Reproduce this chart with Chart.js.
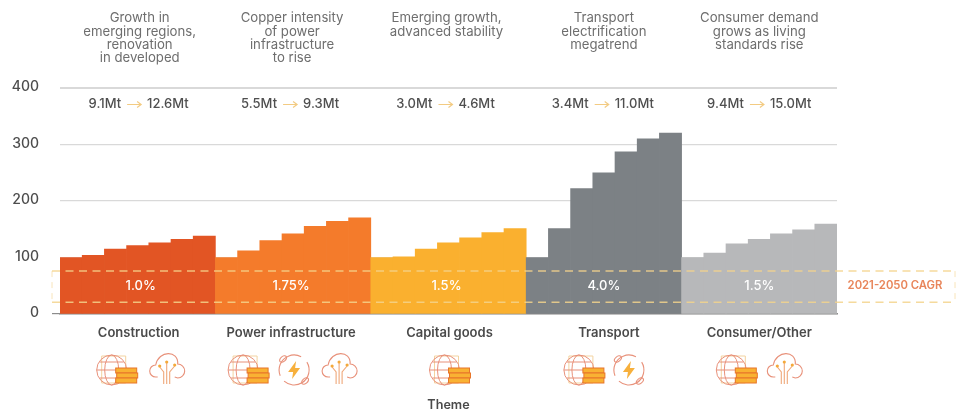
<!DOCTYPE html>
<html><head><meta charset="utf-8">
<style>html,body{margin:0;padding:0;background:#fff}#w{position:relative;width:957px;height:411px}</style>
<script src="https://cdn.jsdelivr.net/npm/chart.js@4"></script></head>
<body><div id="w"><canvas id="c" width="957" height="411"></canvas></div>
<script>
const constructionValues=[100,104,115,121,126,132,138];
const powerValues=[100,112,130,142,155,164,170];
const capitalValues=[100,101,115,126,135,144,151];
const transportValues=[100,151,222,250,287,310,320];
const consumerValues=[100,108,124,132,142,149,159];
const groupNames=['Construction','Power infrastructure','Capital goods','Transport','Consumer/Other'];
const groupColors=['#e25524','#f47b2b','#fab02f','#7c8185','#b7b8ba'];
const groupNotes=[['Growth in','emerging regions,','renovation','in developed'],['Copper intensity','of power','infrastructure','to rise'],['Emerging growth,','advanced stability'],['Transport','electrification','megatrend'],['Consumer demand','grows as living','standards rise']];
const fromTonnes=['9.1Mt','5.5Mt','3.0Mt','3.4Mt','9.4Mt'];
const toTonnes=['12.6Mt','9.3Mt','4.6Mt','11.0Mt','15.0Mt'];
const cagrLabels=['1.0%','1.75%','1.5%','4.0%','1.5%'];
const groupIcons=[['globe','cloud'],['globe','bolt','cloud'],['globe'],['globe','bolt'],['globe','cloud']];
const yTicks=[0,100,200,300,400];
const axisTitle='Theme';
const cagrTitle='2021-2050 CAGR';

const seriesByGroup=[constructionValues,powerValues,capitalValues,transportValues,consumerValues];
const values=seriesByGroup.flat();
const categories=seriesByGroup.flatMap((s,g)=>s.map((_,i)=>groupNames[g]+' '+(i+1)));
const barColors=seriesByGroup.flatMap((s,g)=>s.map(()=>groupColors[g]));

const FONT='Inter, "Open Sans", sans-serif';
// small layout nudges, px from the centre of each group
const noteShift=[2,-1,-2,0,0], rateShift=[1,-3,-3,-1,0], nameShift=[1,-2,1,5,0], cagrShift=[3,-2,-2,0,0];
const iconShift=[[-26,29],[-50,1,46],[-4],[-25,25],[-28,25]];

function globe(c,x,y){
  c.save();c.lineWidth=1;
  c.strokeStyle='#f3d3a0';
  c.beginPath();c.rect(x-10,y-14,24,27);c.stroke();
  c.strokeStyle='#e8917a';
  c.beginPath();c.arc(x,y,15,0,7);c.stroke();
  c.beginPath();c.ellipse(x,y,7,15,0,0,7);c.stroke();
  c.beginPath();c.moveTo(x-15,y);c.lineTo(x+15,y);c.moveTo(x-12,y-8);c.lineTo(x+12,y-8);c.moveTo(x-12,y+8);c.lineTo(x+12,y+8);c.stroke();
  c.fillStyle='#f9b233';c.strokeStyle='#e8752a';
  [[-2,4],[3,5],[8,4]].forEach(r=>{c.fillRect(x+r[1],y+r[0],21,5);c.strokeRect(x+r[1],y+r[0],21,5);});
  c.restore();
}
function cloud(c,x,y){
  c.save();c.strokeStyle='#e8917a';c.lineWidth=1.1;
  c.beginPath();c.moveTo(x-9,y+7);c.lineTo(x-11,y+7);c.arc(x-11,y+1,6,Math.PI/2,Math.PI*1.5);
  c.bezierCurveTo(x-8,y-20,x+12,y-20,x+11,y-6);c.arc(x+11,y+1,7,-Math.PI/2,Math.PI/2);c.lineTo(x+8,y+7);c.stroke();
  c.strokeStyle='#efa87a';
  c.beginPath();c.moveTo(x-3,y+14);c.lineTo(x-3,y+2);c.lineTo(x-7,y-3);c.moveTo(x+3,y+14);c.lineTo(x+3,y+2);c.lineTo(x+8,y-4);c.moveTo(x,y-7);c.lineTo(x,y+14);c.stroke();
  c.fillStyle='#f4a93a';[[x,y-8],[x-7,y-4],[x+8,y-5]].forEach(p=>{c.beginPath();c.arc(p[0],p[1],1.6,0,7);c.fill();});
  c.restore();
}
function bolt(c,x,y){
  c.save();c.strokeStyle='#e8917a';c.lineWidth=1.1;
  c.beginPath();c.arc(x,y,15,-0.55,2.3);c.stroke();c.beginPath();c.arc(x,y,15,2.75,5.2);c.stroke();
  c.beginPath();c.ellipse(x-11,y-11,4,2.5,-0.7,0,7);c.stroke();
  c.beginPath();c.ellipse(x+11,y+11,4,2.5,-0.7,0,7);c.stroke();
  c.fillStyle='#f7b03c';c.beginPath();c.moveTo(x+2,y-9);c.lineTo(x-6,y+2);c.lineTo(x-1,y+2);c.lineTo(x-2,y+9);c.lineTo(x+6,y-2);c.lineTo(x+1,y-2);c.closePath();c.fill();
  c.restore();
}
const iconDraw={globe,cloud,bolt};

const overlay={id:'overlay',afterDatasetsDraw(ch){
  const c=ch.ctx,X=ch.scales.x,Y=ch.scales.y;
  const centre=g=>(X.getPixelForValue(g*7)+X.getPixelForValue(g*7+6))/2;
  c.save();
  c.textBaseline='middle';
  // dashed CAGR band
  const top=Y.getPixelForValue(76),bot=Y.getPixelForValue(21),left=52,right=955;
  c.strokeStyle='rgba(243,212,140,.85)';c.lineWidth=1.5;c.setLineDash([8,5.5]);
  c.beginPath();c.moveTo(left,top);c.lineTo(right,top);c.moveTo(left,bot);c.lineTo(right,bot);c.stroke();
  c.lineWidth=1;c.setLineDash([6,5]);c.strokeStyle='rgba(243,212,140,.6)';
  c.beginPath();c.moveTo(left,top);c.lineTo(left,bot);c.moveTo(right,top);c.lineTo(right,bot);c.stroke();
  c.setLineDash([]);
  c.textAlign='center';
  c.font='600 11.3px '+FONT;c.fillStyle='#e8855a';c.fillText(cagrTitle,895,286);
  groupNames.forEach((n,g)=>{
    const m=centre(g);
    c.textAlign='center';
    c.font='500 13px '+FONT;c.fillStyle='#ffffff';c.fillText(cagrLabels[g],m+cagrShift[g],286.5);
    c.font='600 13px '+FONT;c.fillStyle='#4a4a4a';c.fillText(n,m+nameShift[g],333.5);
    c.font='400 13.2px '+FONT;c.fillStyle='#6e6e6e';
    groupNotes[g].forEach((t,i)=>c.fillText(t,m+noteShift[g],18.5+i*13.1));
    // tonnage with arrow
    c.font='500 13px '+FONT;c.fillStyle='#4f4f4f';
    const a=c.measureText(fromTonnes[g]).width,b=c.measureText(toTonnes[g]).width,gap=26;
    const start=m+rateShift[g]-(a+b+gap)/2;
    c.textAlign='left';
    c.fillText(fromTonnes[g],start,104);
    c.fillText(toTonnes[g],start+a+gap,104);
    const ax=start+a+6,ex=start+a+gap-6;
    c.strokeStyle='#f3cb82';c.lineWidth=1.2;
    c.beginPath();c.moveTo(ax,104.5);c.lineTo(ex,104.5);c.moveTo(ex-4,101.5);c.lineTo(ex,104.5);c.lineTo(ex-4,107.5);c.stroke();
    // icons
    groupIcons[g].forEach((k,i)=>iconDraw[k](c,m+iconShift[g][i],370));
  });
  c.restore();
}};

new Chart(document.getElementById('c'),{
  type:'bar',
  data:{labels:categories,datasets:[{data:values,backgroundColor:barColors,borderWidth:0,barPercentage:1,categoryPercentage:1}]},
  options:{
    responsive:false,animation:false,
    layout:{padding:{top:88,right:120,left:0,bottom:0}},
    plugins:{legend:{display:false},tooltip:{enabled:false}},
    scales:{
      x:{grid:{display:false},border:{display:true,color:'#8c8c8c',width:1.5},ticks:{display:false},
         title:{display:true,text:axisTitle,color:'#4a4a4a',font:{family:FONT,size:12.6,weight:'600'},padding:{top:0,bottom:-2}},
         afterFit(s){s.height=97;}},
      y:{min:0,max:400,border:{display:false},
         afterFit(s){s.width=60;},
         afterBuildTicks(s){s.ticks=yTicks.map(v=>({value:v}));},
         ticks:{color:'#4d4d4d',padding:13,labelOffset:-1,font:{family:FONT,size:14,weight:'500'}},
         grid:{color:'#d9d9d9',lineWidth:c=>c.tick&&c.tick.value===400?2:1.2,tickLength:8,
               tickColor:c=>c.tick&&c.tick.value===0?'#8c8c8c':'rgba(0,0,0,0)'}}
    }
  },
  plugins:[overlay]
});
</script></body></html>
